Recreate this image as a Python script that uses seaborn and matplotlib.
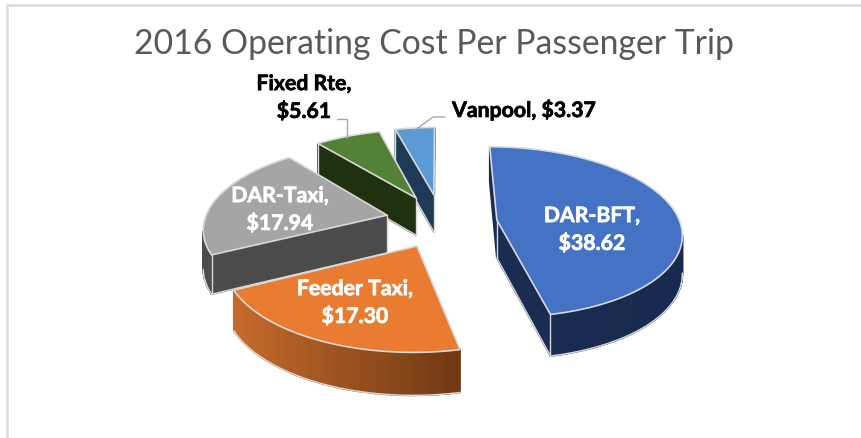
import numpy as np
import matplotlib
matplotlib.use("Agg")
import matplotlib.pyplot as plt
import matplotlib.patheffects as pe
import seaborn as sns

# ---- data ----
categories = ["DAR-BFT", "Feeder Taxi", "DAR-Taxi", "Fixed Rte", "Vanpool"]
values = [38.62, 17.30, 17.94, 5.61, 3.37]
title = "2016 Operating Cost Per Passenger Trip"

# ---- style / layout ----
top_colors = ["#4472C4", "#E97C30", "#A5A5A5", "#538135", "#5B9BD5"]
side_ramps = [("#1A2C52", "#182A4E"), ("#C46A2B", "#6E3813"), ("#4B4B4B", "#4B4B4B"),
              ("#20310F", "#20310F"), ("#1F3A57", "#1F3A57")]
explode_x = [0.317, -0.116, -0.287, -0.131, -0.029]
explode_v = [-0.024, 0.275, -0.082, -0.298, -0.336]
label_pos = [(592, 230), (355, 303), (280, 210), (304, 98), (524, 110)]
label_col = ["white", "white", "white", "black", "black"]
draw_order = [4, 3, 2, 0, 1]
CX, CY, A, B, P, DEPTH = 439, 222, 183, 84, 0.14, 38
EDGE = "#D9D9D9"

sns.set_theme(style="white")
plt.rcParams["font.family"] = ["Lato", "DejaVu Sans"]

fig = plt.figure(figsize=(8.61, 4.38), dpi=100, facecolor="white")
ax = fig.add_axes([0, 0, 1, 1])
ax.set_xlim(0, 861)
ax.set_ylim(438, 0)
ax.axis("off")


def project(X, V, z=0.0):
    s = 1.0 / (1.0 - P * V)
    return (CX + A * X * s, CY + B * V * s + DEPTH * z * (0.4 + 0.6 * s))


total = sum(values)
edges = np.concatenate([[0.0], np.cumsum(values) / total * 2 * np.pi])

for i in draw_order:
    z0 = 2 * draw_order.index(i)
    th = np.linspace(edges[i], edges[i + 1], max(8, int((edges[i + 1] - edges[i]) * 40)))
    ring = [(0.0, 0.0)] + [(np.sin(t), -np.cos(t)) for t in th]
    world = [(u + explode_x[i], v + explode_v[i]) for u, v in ring]
    top = [project(X, V) for X, V in world]
    bot = [project(X, V, 1.0) for X, V in world]
    n = len(world)
    xs = [p[0] for p in top]
    ramp = sns.blend_palette(list(side_ramps[i]), 64)
    outlines = []
    for k in range(n):
        m = (k + 1) % n
        quad = [top[k], top[m], bot[m], bot[k]]
        area = sum(quad[j][0] * quad[(j + 1) % 4][1] - quad[(j + 1) % 4][0] * quad[j][1]
                   for j in range(4))
        if area >= 0:
            continue
        xm = (top[k][0] + top[m][0]) / 2
        c = ramp[int(np.clip((xm - min(xs)) / (max(xs) - min(xs)), 0, 1) * 63)]
        ax.fill(*zip(*quad), facecolor=c, edgecolor=c, linewidth=1.2, zorder=z0 + 1)
        radial = k == 0 or m == 0
        wide = abs(top[k][0] - top[m][0]) > 12
        if wide or not radial:
            outlines.append(([bot[k][0], bot[m][0]], [bot[k][1], bot[m][1]]))
        if radial and wide:
            for q in (k, m):
                outlines.append(([top[q][0], bot[q][0]], [top[q][1], bot[q][1]]))
    for xl, yl in outlines:
        ax.plot(xl, yl, color=EDGE, lw=1.0, solid_capstyle="round", zorder=z0 + 1.5)
    ax.fill(*zip(*top), facecolor=top_colors[i], edgecolor=EDGE, linewidth=1.2,
            joinstyle="round", zorder=z0 + 2)

# chart-area border
ax.plot([7, 7, 861], [438, 5, 5], color="#DCDCDC", lw=1.8, zorder=0)

# leader lines
ax.plot([337, 347, 347], [119, 119, 138], color="#A6A6A6", lw=1.0, zorder=20)
ax.plot([445, 433, 415], [117, 117, 130], color="#A6A6A6", lw=1.0, zorder=20)

ax.text(434, 44, title, ha="center", va="center", fontsize=24.3, color="#595959", zorder=30)
for i, cat in enumerate(categories):
    sep = " " if cat == "Vanpool" else "\n"
    ax.text(*label_pos[i], f"{cat},{sep}${values[i]:.2f}", ha="center", va="center",
            fontsize=15.3, fontweight="bold", color=label_col[i], linespacing=1.4, zorder=30,
            path_effects=[pe.withStroke(linewidth=0.5, foreground=label_col[i])])

fig.savefig("out.png", dpi=100)
